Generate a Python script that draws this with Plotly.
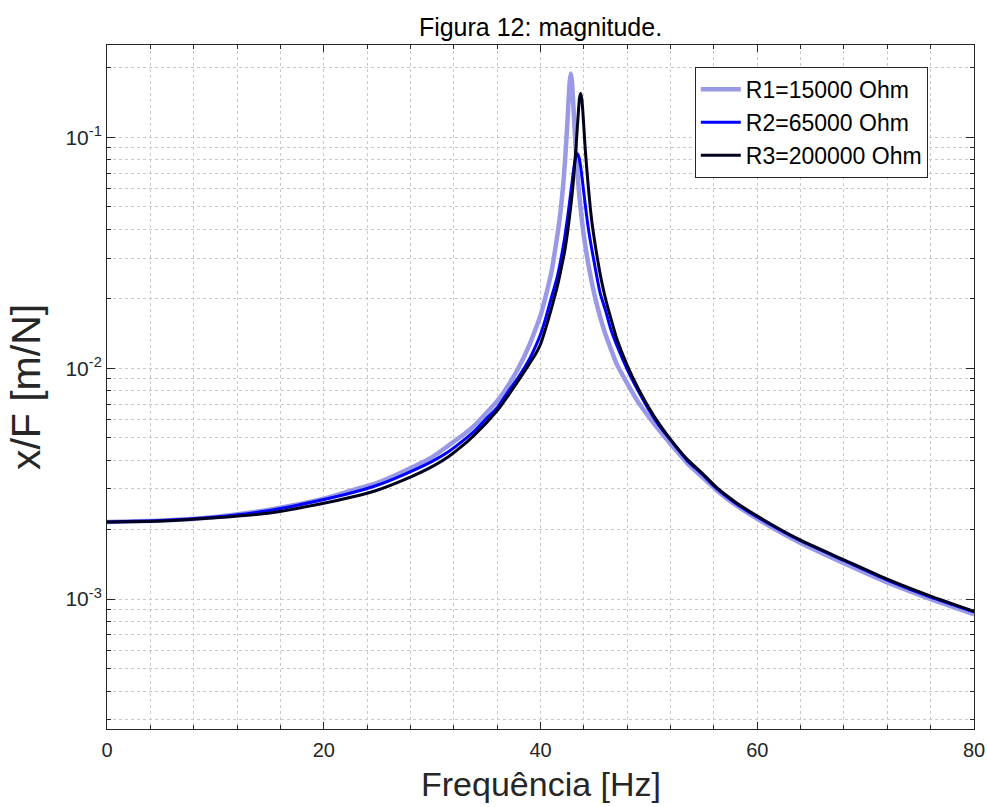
import plotly.graph_objects as go

# ---- data ----
freq_r1 = [0, 5, 10, 15, 20, 22.5, 25, 27.5, 30, 31.5, 33, 34, 35, 36, 37, 38, 39, 39.5, 40, 40.5, 41,
           41.5, 41.8, 42, 42.15, 42.3, 42.4, 42.5, 42.6, 42.7, 42.8, 42.9, 43.0, 43.1, 43.2, 43.3, 43.45,
           43.6, 43.8, 44, 44.5, 45, 45.5, 46, 46.5, 47, 48, 49, 50, 51, 52, 53.5, 55, 56.3, 58, 60, 64,
           68, 72, 76, 80]
mag_r1 = [2.16e-3, 2.19e-3, 2.27e-3, 2.44e-3, 2.72e-3, 2.95e-3, 3.20e-3, 3.60e-3, 4.12e-3, 4.62e-3,
          5.20e-3, 5.70e-3, 6.40e-3, 7.2e-3, 8.40e-3, 1.01e-2, 1.27e-2, 1.46e-2, 1.69e-2, 2.07e-2, 2.60e-2,
          3.62e-2, 4.57e-2, 5.60e-2, 6.7e-2, 8.40e-2, 9.95e-2, 0.120, 0.147, 0.175, 0.189, 0.175, 0.147,
          0.119, 0.0986, 0.083, 0.066, 0.055, 0.0446, 0.0374, 0.0268, 0.0206, 0.0167, 0.0140, 0.0121,
          0.0105, 8.6e-3, 7.15e-3, 6.15e-3, 5.35e-3, 4.70e-3, 3.90e-3, 3.35e-3, 2.95e-3, 2.56e-3,
          2.23e-3, 1.75e-3, 1.43e-3, 1.18e-3, 1.00e-3, 8.6e-4]

freq_r2 = [0, 5, 10, 15, 20, 22.5, 25, 27.5, 30, 31.5, 33, 34, 35, 36, 37, 38, 39, 39.5, 40, 40.5, 41,
           41.5, 41.8, 42, 42.2, 42.5, 42.8, 43.1, 43.25, 43.4, 43.55, 43.7, 44, 44.25, 44.5, 45, 45.5,
           46, 46.5, 47, 48, 49, 50, 51, 52, 53.5, 55, 56.3, 58, 60, 64, 68, 72, 76, 80]
mag_r2 = [2.16e-3, 2.19e-3, 2.27e-3, 2.42e-3, 2.70e-3, 2.88e-3, 3.12e-3, 3.48e-3, 3.95e-3, 4.35e-3,
          4.92e-3, 5.40e-3, 6.05e-3, 6.75e-3, 7.90e-3, 9.20e-3, 1.10e-2, 1.23e-2, 1.40e-2, 1.66e-2,
          2.02e-2, 2.44e-2, 2.83e-2, 3.18e-2, 3.60e-2, 4.50e-2, 5.80e-2, 7.50e-2, 8.20e-2, 8.50e-2,
          8.20e-2, 7.50e-2, 5.75e-2, 4.60e-2, 3.80e-2, 2.80e-2, 2.12e-2, 1.78e-2, 1.47e-2, 1.27e-2,
          9.9e-3, 8.0e-3, 6.6e-3, 5.6e-3, 4.88e-3, 4.00e-3, 3.45e-3, 3.00e-3, 2.60e-3, 2.27e-3,
          1.79e-3, 1.47e-3, 1.21e-3, 1.02e-3, 8.8e-4]

freq_r3 = [0, 5, 10, 15, 20, 22.5, 25, 27.5, 30, 31.5, 33, 34, 35, 36, 37, 38, 39, 39.5, 40, 40.5, 41,
           41.5, 41.8, 42, 42.2, 42.5, 42.8, 43, 43.15, 43.3, 43.5, 43.6, 43.7, 43.8, 43.9, 44.1, 44.25,
           44.4, 44.6, 44.8, 45.3, 45.6, 46, 46.5, 47, 48, 49, 50, 51, 52, 53.5, 55, 56.3, 58, 60, 64, 68,
           72, 76, 80]
mag_r3 = [2.16e-3, 2.18e-3, 2.25e-3, 2.36e-3, 2.60e-3, 2.76e-3, 2.97e-3, 3.30e-3, 3.75e-3, 4.14e-3,
          4.70e-3, 5.20e-3, 5.80e-3, 6.55e-3, 7.60e-3, 8.90e-3, 1.05e-2, 1.14e-2, 1.27e-2, 1.50e-2,
          1.81e-2, 2.21e-2, 2.55e-2, 2.84e-2, 3.15e-2, 3.89e-2, 5.05e-2, 6.20e-2, 7.60e-2, 9.40e-2,
          0.130, 0.148, 0.155, 0.148, 0.131, 9.3e-2, 7.5e-2, 6.2e-2, 4.94e-2, 4.1e-2, 2.9e-2, 2.43e-2,
          2.0e-2, 1.64e-2, 1.36e-2, 1.03e-2, 8.2e-3, 6.75e-3, 5.7e-3, 4.92e-3, 4.05e-3, 3.48e-3,
          3.03e-3, 2.63e-3, 2.29e-3, 1.80e-3, 1.48e-3, 1.22e-3, 1.03e-3, 8.85e-4]

series_names = ["R1=15000 Ohm", "R2=65000 Ohm", "R3=200000 Ohm"]
series_colors = ["#9999e6", "#0000ff", "#00001f"]
series_widths = [4.5, 3, 3]

x_ticks = [0, 20, 40, 60, 80]
y_ticks = [1e-3, 1e-2, 1e-1]
y_ticktext = ["10<sup>-3</sup>", "10<sup>-2</sup>", "10<sup>-1</sup>"]

FONT = "Arial, Liberation Sans, Helvetica, sans-serif"
AX = "#262626"
GRID = "#c8c8c8"

fig = go.Figure()
for fx, my, name, col, w in zip([freq_r1, freq_r2, freq_r3], [mag_r1, mag_r2, mag_r3],
                                series_names, series_colors, series_widths):
    fig.add_trace(go.Scatter(x=fx, y=my, mode="lines", name=name,
                             line=dict(color=col, width=w, shape="spline", smoothing=0.6)))

y_minor = [m * 10.0 ** e for e in range(-4, 0) for m in range(2, 10)]

fig.update_layout(
    width=987, height=807,
    margin=dict(l=107, r=13, t=45, b=78, autoexpand=False),
    paper_bgcolor="white", plot_bgcolor="white",
    font=dict(family=FONT, color=AX),
    title=dict(text="Figura 12: magnitude.", x=(107 + 974) / 2 / 987, xanchor="center",
               y=1 - 27 / 807, yanchor="middle", font=dict(size=25, color="black")),
    showlegend=True,
    legend=dict(x=0.678, y=0.968, xanchor="left", yanchor="top",
                bgcolor="white", bordercolor="#262626", borderwidth=1,
                font=dict(size=23, color="black"), itemwidth=40,
                tracegroupgap=0),
    xaxis=dict(range=[0, 80], tickvals=x_ticks, ticks="inside", ticklen=7, tickcolor=AX,
               showline=True, linecolor=AX, linewidth=1, mirror="ticks", automargin=False,
               showgrid=True, gridcolor=GRID, griddash="dot", gridwidth=1, zeroline=False,
               tickfont=dict(size=20, color=AX), ticklabelstandoff=3,
               minor=dict(dtick=4, tick0=0, showgrid=True, gridcolor=GRID, griddash="dot",
                          ticks="inside", ticklen=4, tickcolor=AX)),
    yaxis=dict(type="log", range=[-3.5625, -0.6], tickmode="array", tickvals=y_ticks,
               ticktext=y_ticktext, ticks="inside", ticklen=8, tickcolor=AX,
               showline=True, linecolor=AX, linewidth=1, mirror="ticks", automargin=False,
               showgrid=True, gridcolor=GRID, griddash="dot", gridwidth=1, zeroline=False,
               tickfont=dict(size=21, color=AX),
               minor=dict(tickmode="array", tickvals=y_minor, showgrid=True, gridcolor=GRID,
                          griddash="dot", ticks="inside", ticklen=4, tickcolor=AX),
               title=dict(text="x/F [m/N]", font=dict(size=41, color=AX), standoff=12)),
    annotations=[dict(text="Frequência [Hz]", xref="paper", yref="paper", x=0.5,
                      y=-(784 - 729) / 684, xanchor="center", yanchor="middle",
                      showarrow=False, font=dict(size=34, color=AX))],
)

fig.write_html("out.html")
